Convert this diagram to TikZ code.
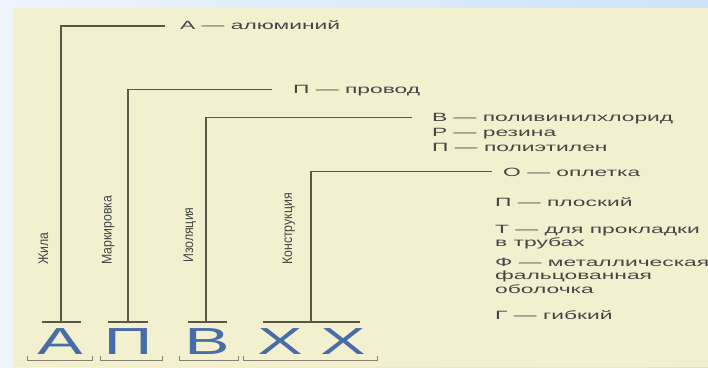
\documentclass[tikz,border=0pt]{standalone}
\usepackage{fontspec}
\setmainfont{Liberation Sans}
\newfontfamily\widefont[FakeStretch=1.9]{Liberation Sans}
\newfontfamily\bigfont[FakeStretch=1.8]{Liberation Sans}
\newfontfamily\narrowfont[FakeStretch=0.88]{Liberation Sans}
\usetikzlibrary{calc}
\definecolor{beige}{RGB}{243,240,208}
\definecolor{skyl}{RGB}{238,244,252}
\definecolor{skyr}{RGB}{205,226,250}
\definecolor{linec}{RGB}{92,86,68}
\definecolor{txtc}{RGB}{70,70,70}
\definecolor{letc}{RGB}{72,108,168}
\begin{document}
\begin{tikzpicture}[x=1pt,y=-1pt,
  conn/.style={draw=linec,line width=1.5pt},
  bar/.style={draw=linec,line width=1.2pt},
  brk/.style={draw=linec!75,line width=1pt},
  lt/.style={inner sep=0pt,anchor=base west,text=txtc,align=left,
    font=\widefont\fontsize{12}{13.5}\selectfont},
  vt/.style={inner sep=0pt,anchor=base west,rotate=90,text=txtc,
    font=\narrowfont\fontsize{14}{15}\selectfont},
  big/.style={inner sep=0pt,text=letc,
    font=\bigfont\fontsize{37.7}{40}\selectfont}]
\useasboundingbox (0,0) rectangle (708,367);
\shade[left color=skyl,right color=skyr] (0,0) rectangle (708,367);
\fill[beige] (13,8) rectangle (708,367);

% big letters
\node[big] (LA) at (60,342) {А};
\node[big] (LP) at (128,342) {П};
\node[big] (LB) at (207,342) {В};
\node[big] (LX1) at (280,342) {Х};
\node[big] (LX2) at (343,342) {Х};

% bars above letters
\draw[bar] (42,322) -- (81,322);
\draw[bar] (108,322) -- (148,322);
\draw[bar] (188,322) -- (227,322);
\draw[bar] (263,322) -- (360,322);
\coordinate (j1) at (61,322);
\coordinate (j2) at (128,322);
\coordinate (j3) at (206,322);
\coordinate (j4) at (311,322);

% brackets under letters
\draw[brk] (27,356) -- (27,360) -- (92,360) -- (92,356);
\draw[brk] (100,356) -- (100,360) -- (162,360) -- (162,356);
\draw[brk] (179,356) -- (179,360) -- (238,360) -- (238,356);
\draw[brk] (243,356) -- (243,360) -- (377,360) -- (377,356);

% vertical labels
\node[vt] (vZ) at (48,265) {Жила};
\node[vt] (vM) at (111.5,265) {Маркировка};
\node[vt] (vI) at (193,263) {Изоляция};
\node[vt] (vK) at (292,265) {Конструкция};

% right texts
\node[lt] (tA) at (180,29.5) {А — алюминий};
\node[lt] (tP) at (293,93.3) {П — провод};
\node[lt] (tV) at (432,121.7) {В — поливинилхлорид};
\node[lt] (tR) at (432,136.7) {Р — резина};
\node[lt] (tPe) at (432,151.7) {П — полиэтилен};
\node[lt] (tO) at (503,176) {О — оплетка};
\node[lt] (tPl) at (495,206) {П — плоский};
\node[lt] (tT) at (495,246.7) {Т — для прокладки\\в трубах};
\node[lt] (tF) at (495,293.3) {Ф — металлическая\\фальцованная\\оболочка};
\node[lt] (tG) at (495,319.3) {Г — гибкий};

% connectors
\draw[conn] (j1) |- ($(tA.base west)+(-15,-3.6)$);
\draw[conn] (j2) |- ($(tP.base west)+(-21,-4)$);
\draw[conn] (j3) |- ($(tV.base west)+(-20,-4)$);
\draw[conn] (j4) |- ($(tO.base west)+(-11,-4.3)$);
\end{tikzpicture}
\end{document}
